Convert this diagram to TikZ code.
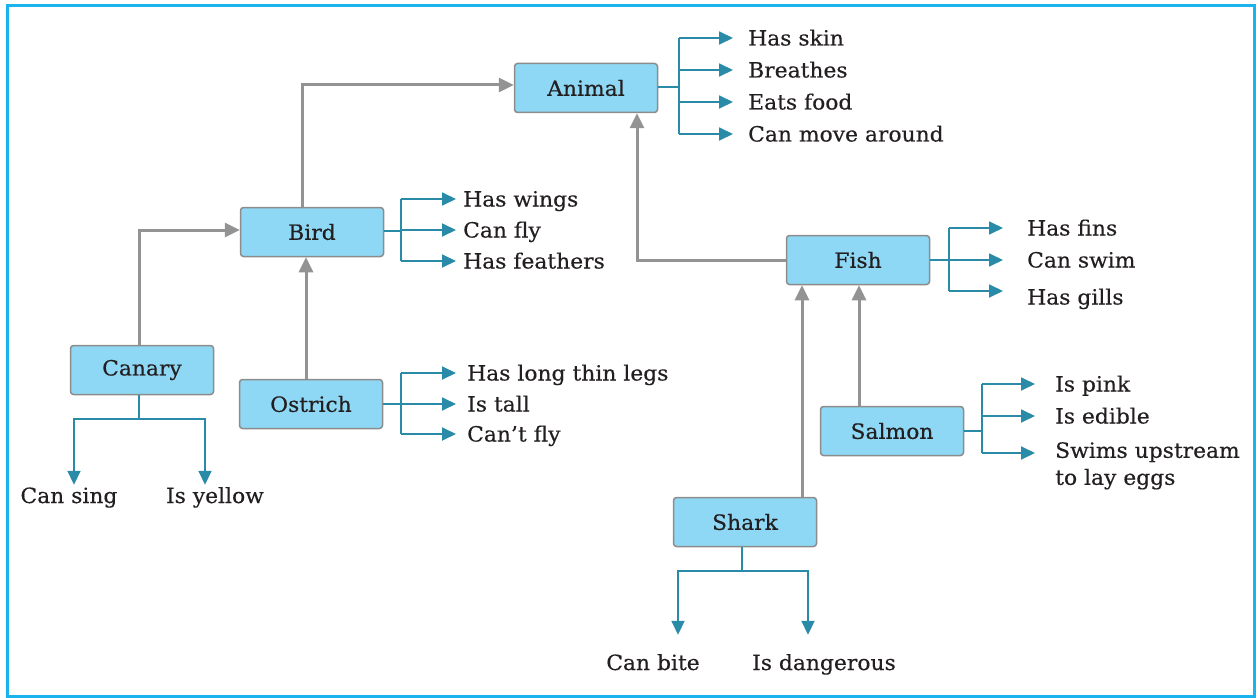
\documentclass[tikz,border=0pt]{standalone}
\usepackage{fontspec}
\setmainfont{DejaVu Serif}[FakeStretch=1.04,FakeBold=0.4]
\usetikzlibrary{arrows.meta,calc}
\definecolor{frameblue}{HTML}{1AB3EE}
\definecolor{boxfill}{HTML}{8ED8F5}
\definecolor{boxdraw}{HTML}{8C8C8C}
\definecolor{linkgray}{HTML}{939393}
\definecolor{propteal}{HTML}{2A8BA9}
\definecolor{txt}{HTML}{231F20}
\tikzset{
  box/.style={draw=boxdraw, fill=boxfill, line width=1.5pt, rounded corners=3pt,
    minimum width=143pt, minimum height=49pt, inner sep=0pt, text=txt,
    font=\fontsize{21}{25}\selectfont},
  prop/.style={inner sep=0pt, text=txt, text height=15pt, text depth=0pt,
    font=\fontsize{21}{25}\selectfont},
  proplong/.style={inner sep=0pt, text=txt, align=left,
    font=\fontsize{21}{27}\selectfont},
  isa/.style={draw=linkgray, line width=3pt, -{Triangle[length=15pt,width=14pt]}},
  has/.style={draw=propteal, line width=1.8pt, -{Triangle[length=14pt,width=13pt]}},
  hasline/.style={draw=propteal, line width=1.8pt},
}
\begin{document}
\begin{tikzpicture}[x=1pt,y=-1pt]
\useasboundingbox (0,0) rectangle (1258,698);
\draw[frameblue, line width=3pt] (7,6) rectangle (1254,696);

% category boxes
\node[box] (Animal) at (586,88) {Animal};
\node[box] (Bird) at (312,232) {Bird};
\node[box] (Canary) at (142,370) {Canary};
\node[box] (Ostrich) at (311,404) {Ostrich};
\node[box] (Fish) at (858,260) {Fish};
\node[box] (Salmon) at (892,431) {Salmon};
\node[box] (Shark) at (745,522) {Shark};

% is-a links
\draw[isa] ([xshift=-10pt]Bird.north) |- ([yshift=3pt]Animal.west);
\draw[isa] ([xshift=-3pt]Canary.north) |- ([yshift=2pt]Bird.west);
\draw[isa] ([xshift=-5pt]Ostrich.north) -- ([xshift=-5pt]Ostrich.north |- Bird.south);
\draw[isa] (Fish.west) -| ([xshift=51pt]Animal.south);
\draw[isa] ([xshift=-33pt]Salmon.north) -- ([xshift=-33pt]Salmon.north |- Fish.south);
\draw[isa] ([xshift=57pt]Shark.north) -- ([xshift=57pt]Shark.north |- Fish.south);

% Animal properties
\node[prop, anchor=west] (a1) at (748,38) {Has skin};
\node[prop, anchor=west] (a2) at (748,70) {Breathes};
\node[prop, anchor=west] (a3) at (748,102) {Eats food};
\node[prop, anchor=west] (a4) at (748,134) {Can move around};
\coordinate (aj) at (679,87);
\draw[propteal, line width=2.6pt] (Animal.east |- aj) -- (aj);
\draw[hasline] (aj |- a1.west) -- (aj |- a4.west);
\foreach \t in {a1,a2,a3,a4}{\draw[has] (aj |- \t.west) -- ([xshift=-15pt]\t.west);}

% Bird properties
\node[prop, anchor=west] (b1) at (463,199) {Has wings};
\node[prop, anchor=west] (b2) at (463,230) {Can fly};
\node[prop, anchor=west] (b3) at (463,261) {Has feathers};
\coordinate (bj) at (401,231);
\draw[hasline] (Bird.east |- bj) -- (bj);
\draw[hasline] (bj |- b1.west) -- (bj |- b3.west);
\foreach \t in {b1,b2,b3}{\draw[has] (bj |- \t.west) -- ([xshift=-7pt]\t.west);}

% Ostrich properties
\node[prop, anchor=west] (o1) at (467,373) {Has long thin legs};
\node[prop, anchor=west] (o2) at (467,404) {Is tall};
\node[prop, anchor=west] (o3) at (467,434) {Can’t fly};
\coordinate (oj) at (401,404);
\draw[hasline] (Ostrich.east |- oj) -- (oj);
\draw[hasline] (oj |- o1.west) -- (oj |- o3.west);
\foreach \t in {o1,o2,o3}{\draw[has] (oj |- \t.west) -- ([xshift=-11pt]\t.west);}

% Fish properties
\node[prop, anchor=west] (f1) at (1027,228) {Has fins};
\node[prop, anchor=west] (f2) at (1027,260) {Can swim};
\node[prop, anchor=west] (f3) at (1027,297) {Has gills};
\coordinate (fj) at (949,260);
\coordinate (f3a) at ([yshift=6pt]f3.west);
\draw[hasline] (Fish.east |- fj) -- (fj);
\draw[hasline] (fj |- f1.west) -- (fj |- f3a);
\draw[has] (fj |- f1.west) -- ([xshift=-24pt]f1.west);
\draw[has] (fj |- f2.west) -- ([xshift=-24pt]f2.west);
\draw[has] (fj |- f3a) -- ([xshift=-24pt]f3a);

% Salmon properties
\node[prop, anchor=west] (s1) at (1055,384) {Is pink};
\node[prop, anchor=west] (s2) at (1055,416) {Is edible};
\node[proplong, anchor=north west] (s3) at (1055,442) {Swims upstream\\to lay eggs};
\coordinate (s3a) at ([yshift=-11pt]s3.north west);
\coordinate (sj) at (982,431);
\draw[hasline] (Salmon.east |- sj) -- (sj);
\draw[hasline] (sj |- s1.west) -- (sj |- s3a);
\draw[has] (sj |- s1.west) -- ([xshift=-20pt]s1.west);
\draw[has] (sj |- s2.west) -- ([xshift=-20pt]s2.west);
\draw[has] (sj |- s3a) -- ([xshift=-20pt]s3a);

% Canary properties
\node[prop, anchor=base] (c1) at (69,503) {Can sing};
\node[prop, anchor=base] (c2) at (215,503) {Is yellow};
\coordinate (cj) at ([xshift=-3pt,yshift=-24pt]Canary.south);
\draw[hasline] ([xshift=-3pt]Canary.south) -- (cj);
\draw[has] (cj) -| ([xshift=5pt,yshift=3pt]c1.north);
\draw[has] (cj) -| ([xshift=-10pt,yshift=3pt]c2.north);

% Shark properties
\node[prop, anchor=base] (k1) at (653,670) {Can bite};
\node[prop, anchor=base] (k2) at (824,670) {Is dangerous};
\coordinate (kj) at ([xshift=-3pt,yshift=-24pt]Shark.south);
\draw[hasline] ([xshift=-3pt]Shark.south) -- (kj);
\draw[has] (kj) -| ([xshift=25pt,yshift=20pt]k1.north);
\draw[has] (kj) -| ([xshift=-16pt,yshift=20pt]k2.north);
\end{tikzpicture}
\end{document}
